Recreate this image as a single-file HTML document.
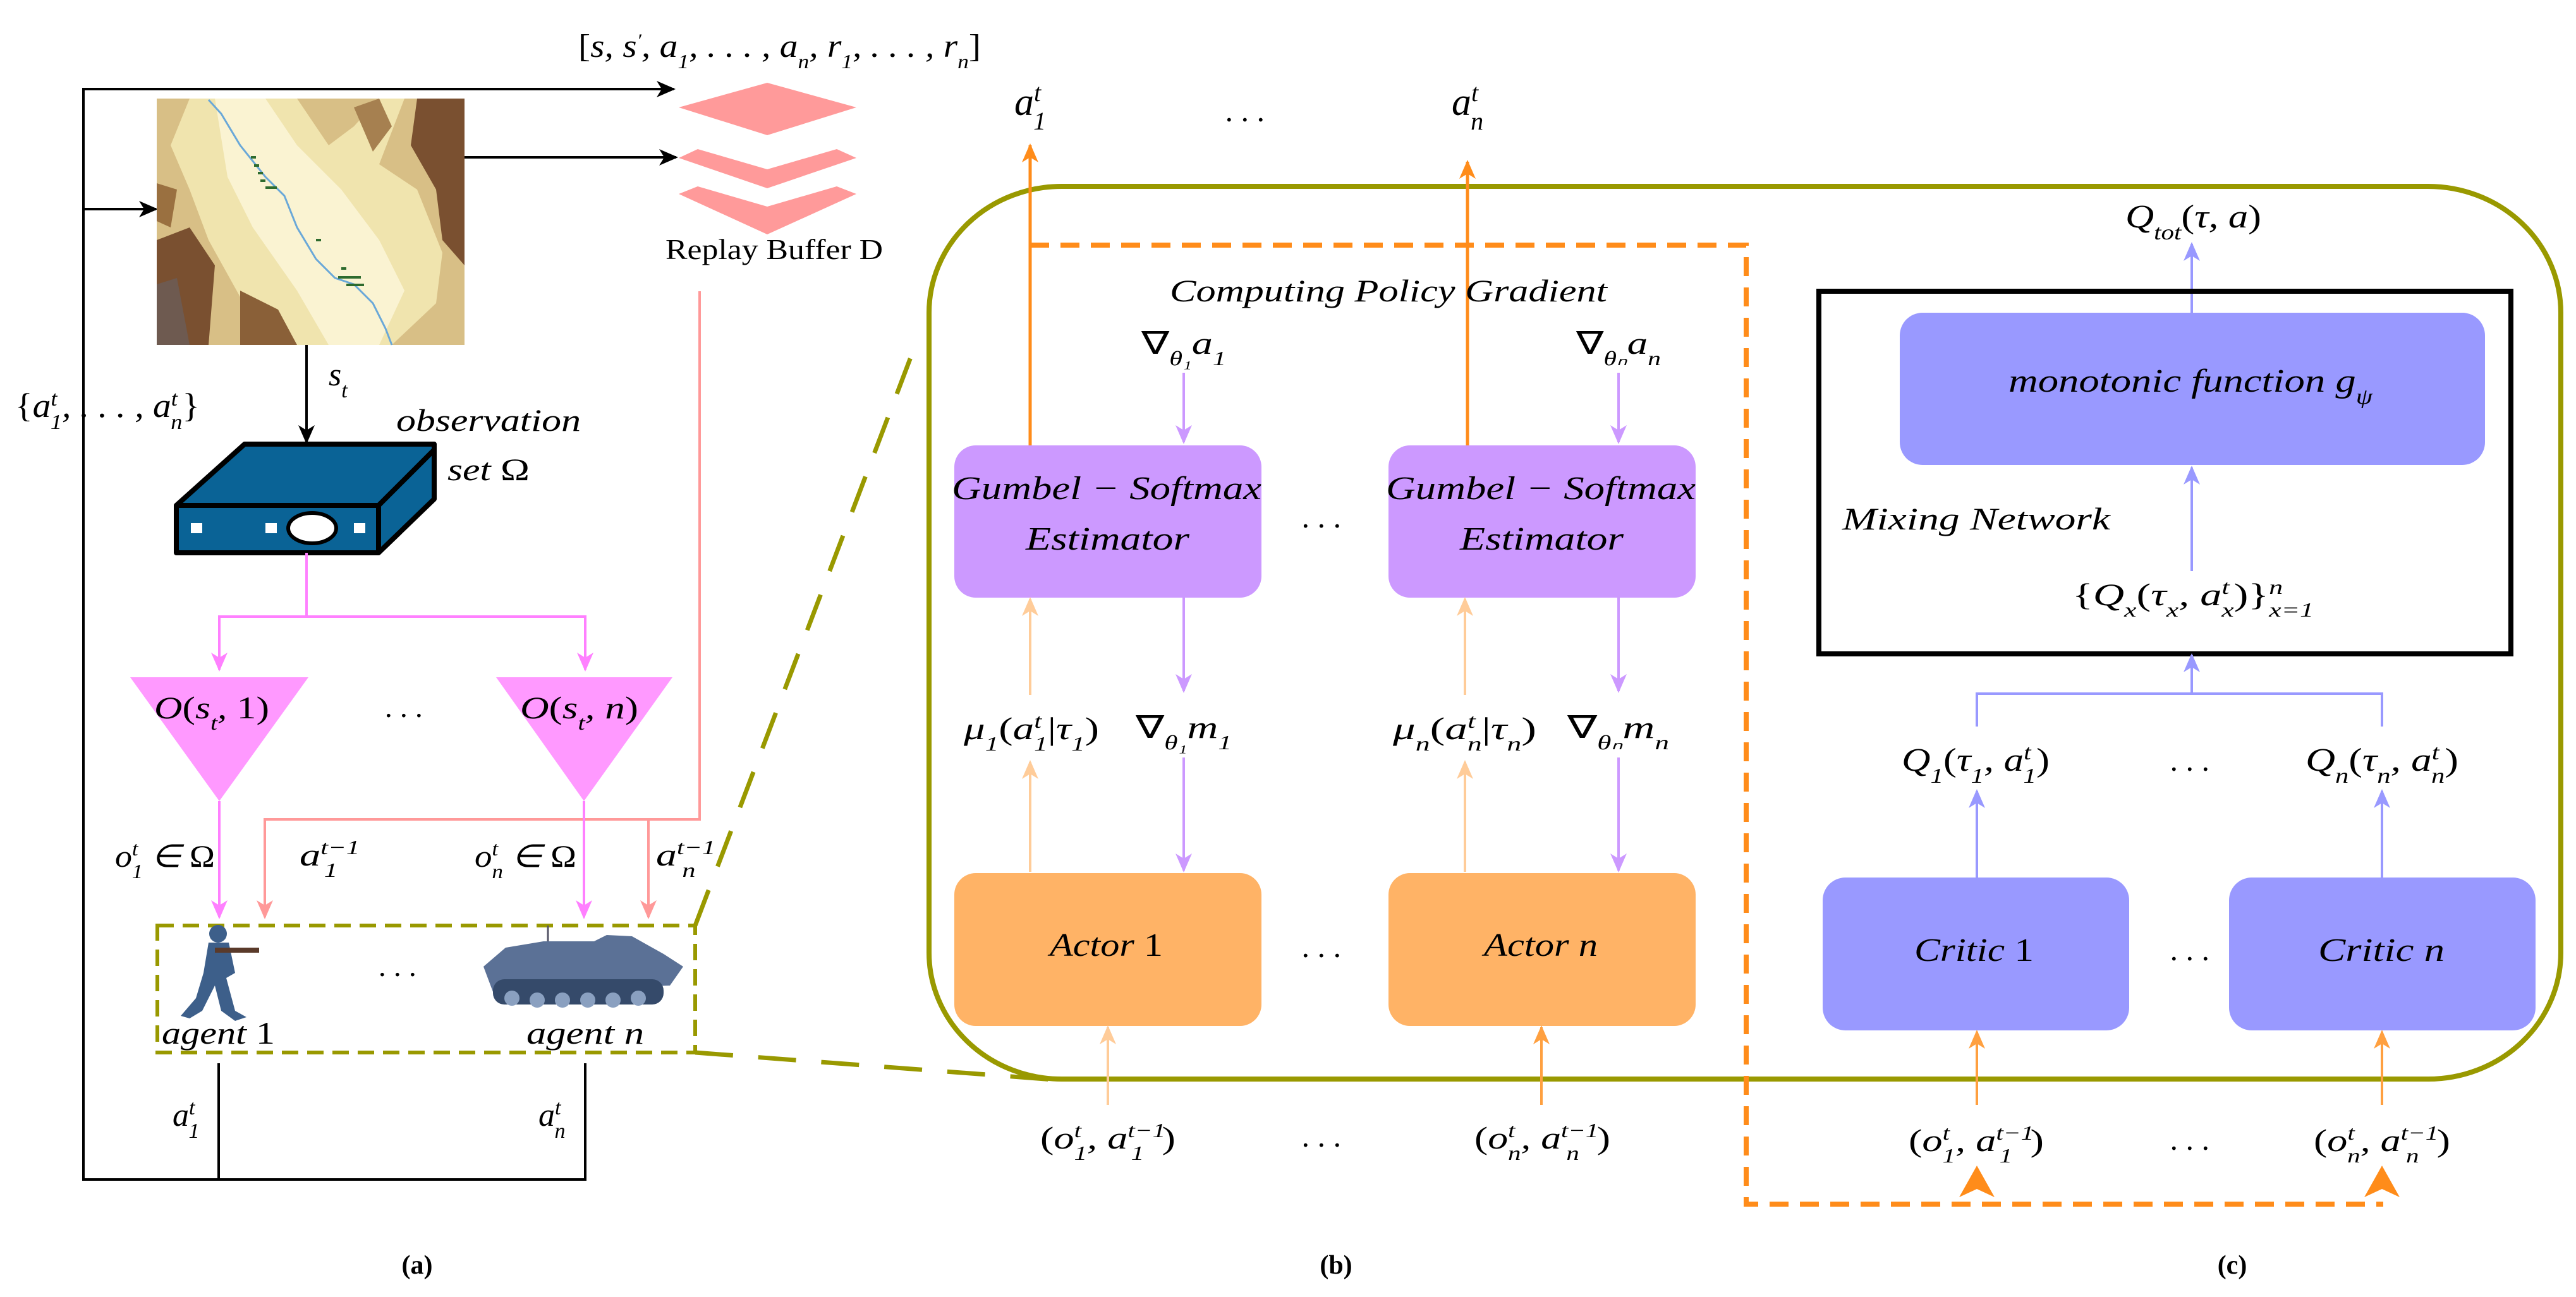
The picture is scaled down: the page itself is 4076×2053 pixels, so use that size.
<!DOCTYPE html>
<html><head><meta charset="utf-8"><style>
html,body{margin:0;padding:0;background:#fff;}
svg{display:block;}
text{font-family:"Liberation Serif",serif;font-style:italic;fill:#000;}
.up{font-family:"Liberation Serif",serif;font-style:normal;}
</style></head><body>
<svg width="4076" height="2053" viewBox="0 0 4076 2053" xmlns="http://www.w3.org/2000/svg">
<defs>
<marker id="mk" viewBox="0 0 30 30" refX="27" refY="15" markerWidth="30" markerHeight="30" markerUnits="userSpaceOnUse" orient="auto"><path d="M0,2 L30,15 L0,28 L8,15 Z" fill="#000"/></marker>
<marker id="mp" viewBox="0 0 30 30" refX="27" refY="15" markerWidth="30" markerHeight="30" markerUnits="userSpaceOnUse" orient="auto"><path d="M0,2 L30,15 L0,28 L8,15 Z" fill="#ff80ff"/></marker>
<marker id="ms" viewBox="0 0 30 30" refX="27" refY="15" markerWidth="30" markerHeight="30" markerUnits="userSpaceOnUse" orient="auto"><path d="M0,2 L30,15 L0,28 L8,15 Z" fill="#ff9999"/></marker>
<marker id="mo" viewBox="0 0 30 30" refX="27" refY="15" markerWidth="30" markerHeight="30" markerUnits="userSpaceOnUse" orient="auto"><path d="M0,2 L30,15 L0,28 L8,15 Z" fill="#ff8c1a"/></marker>
<marker id="mpe" viewBox="0 0 30 30" refX="27" refY="15" markerWidth="30" markerHeight="30" markerUnits="userSpaceOnUse" orient="auto"><path d="M0,2 L30,15 L0,28 L8,15 Z" fill="#ffcc99"/></marker>
<marker id="ml" viewBox="0 0 30 30" refX="27" refY="15" markerWidth="30" markerHeight="30" markerUnits="userSpaceOnUse" orient="auto"><path d="M0,2 L30,15 L0,28 L8,15 Z" fill="#cc99ff"/></marker>
<marker id="mb" viewBox="0 0 30 30" refX="27" refY="15" markerWidth="30" markerHeight="30" markerUnits="userSpaceOnUse" orient="auto"><path d="M0,2 L30,15 L0,28 L8,15 Z" fill="#9999ff"/></marker>
<marker id="mor" viewBox="0 0 30 30" refX="27" refY="15" markerWidth="30" markerHeight="30" markerUnits="userSpaceOnUse" orient="auto"><path d="M0,2 L30,15 L0,28 L8,15 Z" fill="#ffa040"/></marker>
</defs>

<!-- ========== Panel (a) ========== -->
<polyline points="346,1683 346,1867 132,1867 132,141 1066,141" fill="none" stroke="#000" stroke-width="4" marker-end="url(#mk)"/>
<polyline points="926,1683 926,1867 346,1867" fill="none" stroke="#000" stroke-width="4"/>
<line x1="132" y1="331" x2="247" y2="331" stroke="#000" stroke-width="4" marker-end="url(#mk)"/>
<line x1="734" y1="249" x2="1070" y2="249" stroke="#000" stroke-width="4" marker-end="url(#mk)"/>

<!-- map -->
<g>
<rect x="248" y="156" width="487" height="390" fill="#d8bf86"/>
<path d="M300,156 L470,156 L520,230 L560,200 L600,156 L640,156 L600,260 L660,300 L700,400 L690,480 L620,546 L470,546 L380,470 L330,380 L300,300 L270,230 Z" fill="#f0e4ae"/>
<path d="M340,156 L420,156 L470,230 L540,300 L600,380 L640,460 L600,546 L520,546 L470,460 L400,360 L360,280 Z" fill="#faf3d2"/>
<path d="M248,380 L300,360 L340,420 L330,546 L248,546 Z" fill="#7a5030"/>
<path d="M248,450 L280,440 L300,546 L248,546 Z" fill="#6e5a50"/>
<path d="M660,156 L735,156 L735,420 L700,380 L690,300 L650,230 Z" fill="#7a5030"/>
<path d="M248,290 L280,300 L270,360 L248,350 Z" fill="#9a7040"/>
<path d="M380,460 L440,490 L470,546 L380,546 Z" fill="#8a6038"/>
<path d="M560,170 L600,156 L620,200 L590,240 Z" fill="#a68050"/>
<polyline points="330,158 350,180 380,230 420,280 450,310 470,360 500,410 530,440 560,450 590,480 610,520 620,546" fill="none" stroke="#6aa8d8" stroke-width="3"/>
<g fill="#2e6b2e"><rect x="397" y="247" width="8" height="4"/><rect x="402" y="260" width="8" height="4"/><rect x="408" y="272" width="8" height="4"/><rect x="412" y="284" width="8" height="4"/><rect x="420" y="295" width="18" height="4"/><rect x="500" y="378" width="8" height="4"/><rect x="540" y="423" width="8" height="4"/><rect x="535" y="437" width="36" height="4"/><rect x="548" y="449" width="28" height="4"/></g>
</g>

<!-- replay buffer -->
<polygon points="1214,131 1355,170 1214,214 1074,170" fill="#ff9a9a"/>
<polygon points="1074,250 1104,236 1214,268 1324,236 1355,250 1214,298" fill="#ff9a9a"/>
<polygon points="1074,307 1104,295 1214,327 1324,295 1355,307 1214,371" fill="#ff9a9a"/>
<text class="up" x="1053" y="410" font-size="46" textLength="344" lengthAdjust="spacingAndGlyphs">Replay Buffer D</text>
<text x="915" y="90" font-size="52" textLength="637" lengthAdjust="spacingAndGlyphs"><tspan class="up">[</tspan>s, s<tspan font-size="30" baseline-shift="super">′</tspan>, a<tspan font-size="32" baseline-shift="sub">1</tspan>, . . . , a<tspan font-size="32" baseline-shift="sub">n</tspan>, r<tspan font-size="32" baseline-shift="sub">1</tspan>, . . . , r<tspan font-size="32" baseline-shift="sub">n</tspan><tspan class="up">]</tspan></text>

<polyline points="1107,461 1107,1297 419,1297 419,1452" fill="none" stroke="#ff9999" stroke-width="4" marker-end="url(#ms)"/>
<line x1="1026" y1="1297" x2="1026" y2="1452" stroke="#ff9999" stroke-width="4" marker-end="url(#ms)"/>

<text x="24" y="660" font-size="54" textLength="292" lengthAdjust="spacingAndGlyphs"><tspan class="up">{</tspan>a<tspan font-size="34" baseline-shift="super">t</tspan><tspan font-size="34" dx="-10" baseline-shift="sub">1</tspan>, . . . , a<tspan font-size="34" baseline-shift="super">t</tspan><tspan font-size="34" dx="-10" baseline-shift="sub">n</tspan><tspan class="up">}</tspan></text>

<line x1="485" y1="546" x2="485" y2="700" stroke="#000" stroke-width="4" marker-end="url(#mk)"/>
<text x="520" y="610" font-size="52">s<tspan font-size="34" baseline-shift="sub">t</tspan></text>

<!-- device -->
<polygon points="279,800 387,703 687,703 687,790 599,875 279,875" fill="#0a6396" stroke="#000" stroke-width="8" stroke-linejoin="round"/>
<line x1="279" y1="800" x2="599" y2="800" stroke="#000" stroke-width="8"/>
<line x1="599" y1="800" x2="687" y2="712" stroke="#000" stroke-width="8"/>
<line x1="599" y1="800" x2="599" y2="875" stroke="#000" stroke-width="8"/>
<rect x="302" y="828" width="18" height="16" fill="#fff"/>
<rect x="420" y="828" width="18" height="16" fill="#fff"/>
<rect x="560" y="828" width="18" height="16" fill="#fff"/>
<ellipse cx="494" cy="836" rx="38" ry="24" fill="#fff" stroke="#000" stroke-width="6"/>
<text x="627" y="682" font-size="50" textLength="292" lengthAdjust="spacingAndGlyphs">observation</text>
<text x="708" y="760" font-size="50" textLength="130" lengthAdjust="spacingAndGlyphs">set <tspan class="up">Ω</tspan></text>

<polyline points="485,875 485,976" fill="none" stroke="#ff80ff" stroke-width="4"/>
<polyline points="347,1000 347,976 926,976 926,1000" fill="none" stroke="#ff80ff" stroke-width="4"/>
<line x1="347" y1="990" x2="347" y2="1060" stroke="#ff80ff" stroke-width="4" marker-end="url(#mp)"/>
<line x1="926" y1="990" x2="926" y2="1060" stroke="#ff80ff" stroke-width="4" marker-end="url(#mp)"/>
<polygon points="206,1072 488,1072 347,1268" fill="#ff99ff"/>
<polygon points="785,1072 1064,1072 924,1268" fill="#ff99ff"/>
<text x="244" y="1137" font-size="50" textLength="182" lengthAdjust="spacingAndGlyphs">O<tspan class="up">(</tspan>s<tspan font-size="32" baseline-shift="sub">t</tspan>, <tspan class="up">1)</tspan></text>
<text x="823" y="1137" font-size="50" textLength="187" lengthAdjust="spacingAndGlyphs">O<tspan class="up">(</tspan>s<tspan font-size="32" baseline-shift="sub">t</tspan>, n<tspan class="up">)</tspan></text>
<text x="610" y="1135" font-size="48">. . .</text>
<line x1="347" y1="1268" x2="347" y2="1452" stroke="#ff80ff" stroke-width="4" marker-end="url(#mp)"/>
<line x1="924" y1="1268" x2="924" y2="1452" stroke="#ff80ff" stroke-width="4" marker-end="url(#mp)"/>

<text x="182" y="1372" font-size="50" textLength="158" lengthAdjust="spacingAndGlyphs">o<tspan font-size="32" baseline-shift="super">t</tspan><tspan font-size="32" dx="-9" baseline-shift="sub">1</tspan> ∈ <tspan class="up">Ω</tspan></text>
<text x="474" y="1370" font-size="50" textLength="92" lengthAdjust="spacingAndGlyphs">a<tspan font-size="32" baseline-shift="super">t−1</tspan><tspan font-size="32" dx="-40" baseline-shift="sub">1</tspan></text>
<text x="751" y="1372" font-size="50" textLength="161" lengthAdjust="spacingAndGlyphs">o<tspan font-size="32" baseline-shift="super">t</tspan><tspan font-size="32" dx="-9" baseline-shift="sub">n</tspan> ∈ <tspan class="up">Ω</tspan></text>
<text x="1038" y="1370" font-size="50" textLength="94" lengthAdjust="spacingAndGlyphs">a<tspan font-size="32" baseline-shift="super">t−1</tspan><tspan font-size="32" dx="-40" baseline-shift="sub">n</tspan></text>

<rect x="249" y="1465" width="851" height="201" fill="none" stroke="#999900" stroke-width="6" stroke-dasharray="26,14"/>
<g fill="#3d5f8a">
<circle cx="345" cy="1478" r="14"/>
<path d="M330,1492 L362,1492 L372,1540 L358,1548 L372,1600 L390,1610 L372,1616 L350,1600 L340,1560 L320,1600 L300,1612 L286,1608 L310,1580 L322,1540 Z"/>
<rect x="340" y="1500" width="70" height="8" fill="#5a3a2a"/>
</g>
<g>
<polygon points="765,1530 800,1500 860,1490 940,1490 960,1480 1000,1482 1050,1510 1081,1530 1060,1560 780,1570" fill="#5b7196"/>
<rect x="780" y="1550" width="270" height="40" rx="18" fill="#354a6a"/>
<g fill="#8aa0c0"><circle cx="810" cy="1580" r="12"/><circle cx="850" cy="1583" r="12"/><circle cx="890" cy="1583" r="12"/><circle cx="930" cy="1583" r="12"/><circle cx="970" cy="1583" r="12"/><circle cx="1010" cy="1580" r="12"/></g>
<line x1="867" y1="1490" x2="867" y2="1465" stroke="#556" stroke-width="3"/>
</g>
<text x="600" y="1545" font-size="48">. . .</text>
<text x="256" y="1652" font-size="50" textLength="179" lengthAdjust="spacingAndGlyphs">agent <tspan class="up">1</tspan></text>
<text x="833" y="1652" font-size="50" textLength="186" lengthAdjust="spacingAndGlyphs">agent n</text>

<text x="273" y="1782" font-size="52">a<tspan font-size="34" baseline-shift="super">t</tspan><tspan font-size="34" dx="-10" baseline-shift="sub">1</tspan></text>
<text x="852" y="1782" font-size="52">a<tspan font-size="34" baseline-shift="super">t</tspan><tspan font-size="34" dx="-10" baseline-shift="sub">n</tspan></text>
<text class="up" x="660" y="2016" font-size="42" font-weight="bold" text-anchor="middle">(a)</text>

<line x1="1100" y1="1465" x2="1445" y2="555" stroke="#999900" stroke-width="7" stroke-dasharray="60,40"/>
<line x1="1100" y1="1666" x2="1680" y2="1710" stroke="#999900" stroke-width="7" stroke-dasharray="60,40"/>

<rect x="1470" y="295" width="2582" height="1413" rx="210" ry="200" fill="none" stroke="#999900" stroke-width="8"/>

<polyline points="1630,388 2763,388 2763,1906 3771,1906" fill="none" stroke="#ff8c1a" stroke-width="8" stroke-dasharray="30,18"/>
<polygon points="3100,1895 3128,1845 3156,1895 3128,1882" fill="#ff8c1a"/>
<polygon points="3741,1895 3769,1845 3797,1895 3769,1882" fill="#ff8c1a"/>

<!-- ========== Panel (b) ========== -->
<line x1="1630" y1="705" x2="1630" y2="230" stroke="#ff8c1a" stroke-width="5" marker-end="url(#mo)"/>
<line x1="2322" y1="705" x2="2322" y2="256" stroke="#ff8c1a" stroke-width="5" marker-end="url(#mo)"/>
<text x="1630" y="182" font-size="62" text-anchor="middle">a<tspan font-size="40" baseline-shift="super">t</tspan><tspan font-size="40" dx="-12" baseline-shift="sub">1</tspan></text>
<text x="2322" y="182" font-size="62" text-anchor="middle">a<tspan font-size="40" baseline-shift="super">t</tspan><tspan font-size="40" dx="-12" baseline-shift="sub">n</tspan></text>
<text x="1971" y="192" font-size="50" text-anchor="middle">. . .</text>

<text x="1851" y="477" font-size="50" textLength="692" lengthAdjust="spacingAndGlyphs">Computing Policy Gradient</text>
<text x="1806" y="560" font-size="50" textLength="134" lengthAdjust="spacingAndGlyphs"><tspan class="up">∇</tspan><tspan font-size="32" baseline-shift="sub">θ₁</tspan>a<tspan font-size="32" baseline-shift="sub">1</tspan></text>
<text x="2494" y="560" font-size="50" textLength="134" lengthAdjust="spacingAndGlyphs"><tspan class="up">∇</tspan><tspan font-size="32" baseline-shift="sub">θₙ</tspan>a<tspan font-size="32" baseline-shift="sub">n</tspan></text>
<line x1="1873" y1="590" x2="1873" y2="700" stroke="#cc99ff" stroke-width="4" marker-end="url(#ml)"/>
<line x1="2561" y1="590" x2="2561" y2="700" stroke="#cc99ff" stroke-width="4" marker-end="url(#ml)"/>

<rect x="1510" y="705" width="486" height="241" rx="34" fill="#cc99ff"/>
<rect x="2197" y="705" width="486" height="241" rx="34" fill="#cc99ff"/>
<text x="1506" y="790" font-size="52" textLength="490" lengthAdjust="spacingAndGlyphs">Gumbel − Softmax</text>
<text x="1623" y="870" font-size="52" textLength="259" lengthAdjust="spacingAndGlyphs">Estimator</text>
<text x="2193" y="790" font-size="52" textLength="490" lengthAdjust="spacingAndGlyphs">Gumbel − Softmax</text>
<text x="2310" y="870" font-size="52" textLength="259" lengthAdjust="spacingAndGlyphs">Estimator</text>
<text x="2092" y="835" font-size="50" text-anchor="middle">. . .</text>

<line x1="1630" y1="1100" x2="1630" y2="948" stroke="#ffcc99" stroke-width="4" marker-end="url(#mpe)"/>
<line x1="1630" y1="1380" x2="1630" y2="1206" stroke="#ffcc99" stroke-width="4" marker-end="url(#mpe)"/>
<line x1="2318" y1="1100" x2="2318" y2="948" stroke="#ffcc99" stroke-width="4" marker-end="url(#mpe)"/>
<line x1="2318" y1="1380" x2="2318" y2="1206" stroke="#ffcc99" stroke-width="4" marker-end="url(#mpe)"/>
<line x1="1873" y1="946" x2="1873" y2="1094" stroke="#cc99ff" stroke-width="4" marker-end="url(#ml)"/>
<line x1="1873" y1="1199" x2="1873" y2="1378" stroke="#cc99ff" stroke-width="4" marker-end="url(#ml)"/>
<line x1="2561" y1="946" x2="2561" y2="1094" stroke="#cc99ff" stroke-width="4" marker-end="url(#ml)"/>
<line x1="2561" y1="1199" x2="2561" y2="1378" stroke="#cc99ff" stroke-width="4" marker-end="url(#ml)"/>

<text x="1525" y="1170" font-size="50" textLength="214" lengthAdjust="spacingAndGlyphs">μ<tspan font-size="32" baseline-shift="sub">1</tspan><tspan class="up">(</tspan>a<tspan font-size="32" baseline-shift="super">t</tspan><tspan font-size="32" dx="-9" baseline-shift="sub">1</tspan><tspan class="up">|</tspan>τ<tspan font-size="32" baseline-shift="sub">1</tspan><tspan class="up">)</tspan></text>
<text x="1797" y="1168" font-size="50" textLength="152" lengthAdjust="spacingAndGlyphs"><tspan class="up">∇</tspan><tspan font-size="32" baseline-shift="sub">θ₁</tspan>m<tspan font-size="32" baseline-shift="sub">1</tspan></text>
<text x="2204" y="1170" font-size="50" textLength="227" lengthAdjust="spacingAndGlyphs">μ<tspan font-size="32" baseline-shift="sub">n</tspan><tspan class="up">(</tspan>a<tspan font-size="32" baseline-shift="super">t</tspan><tspan font-size="32" dx="-9" baseline-shift="sub">n</tspan><tspan class="up">|</tspan>τ<tspan font-size="32" baseline-shift="sub">n</tspan><tspan class="up">)</tspan></text>
<text x="2480" y="1168" font-size="50" textLength="161" lengthAdjust="spacingAndGlyphs"><tspan class="up">∇</tspan><tspan font-size="32" baseline-shift="sub">θₙ</tspan>m<tspan font-size="32" baseline-shift="sub">n</tspan></text>

<rect x="1510" y="1382" width="486" height="242" rx="34" fill="#ffb366"/>
<rect x="2197" y="1382" width="486" height="242" rx="34" fill="#ffb366"/>
<text x="1661" y="1513" font-size="52" textLength="179" lengthAdjust="spacingAndGlyphs">Actor <tspan class="up">1</tspan></text>
<text x="2348" y="1513" font-size="52" textLength="180" lengthAdjust="spacingAndGlyphs">Actor n</text>
<text x="2092" y="1515" font-size="50" text-anchor="middle">. . .</text>

<line x1="1753" y1="1749" x2="1753" y2="1626" stroke="#ffcc99" stroke-width="4" marker-end="url(#mpe)"/>
<line x1="2439" y1="1749" x2="2439" y2="1626" stroke="#ffa040" stroke-width="4" marker-end="url(#mor)"/>
<text x="1646" y="1818" font-size="50" textLength="214" lengthAdjust="spacingAndGlyphs"><tspan class="up">(</tspan>o<tspan font-size="32" baseline-shift="super">t</tspan><tspan font-size="32" dx="-9" baseline-shift="sub">1</tspan>, a<tspan font-size="32" baseline-shift="super">t−1</tspan><tspan font-size="32" dx="-40" baseline-shift="sub">1</tspan><tspan class="up" dx="22">)</tspan></text>
<text x="2333" y="1818" font-size="50" textLength="215" lengthAdjust="spacingAndGlyphs"><tspan class="up">(</tspan>o<tspan font-size="32" baseline-shift="super">t</tspan><tspan font-size="32" dx="-9" baseline-shift="sub">n</tspan>, a<tspan font-size="32" baseline-shift="super">t−1</tspan><tspan font-size="32" dx="-40" baseline-shift="sub">n</tspan><tspan class="up" dx="22">)</tspan></text>
<text x="2092" y="1815" font-size="50" text-anchor="middle">. . .</text>
<text class="up" x="2114" y="2016" font-size="42" font-weight="bold" text-anchor="middle">(b)</text>

<!-- ========== Panel (c) ========== -->
<text x="3363" y="360" font-size="52" textLength="215" lengthAdjust="spacingAndGlyphs">Q<tspan font-size="34" baseline-shift="sub">tot</tspan><tspan class="up">(</tspan>τ, a<tspan class="up">)</tspan></text>
<line x1="3468" y1="495" x2="3468" y2="386" stroke="#9999ff" stroke-width="4" marker-end="url(#mb)"/>
<rect x="2878" y="461" width="1095" height="574" fill="none" stroke="#000" stroke-width="8"/>
<rect x="3006" y="495" width="926" height="241" rx="36" fill="#9999ff"/>
<text x="3178" y="620" font-size="52" textLength="576" lengthAdjust="spacingAndGlyphs">monotonic function g<tspan font-size="34" baseline-shift="sub">ψ</tspan></text>
<line x1="3468" y1="904" x2="3468" y2="740" stroke="#9999ff" stroke-width="4" marker-end="url(#mb)"/>
<text x="2915" y="838" font-size="50" textLength="424" lengthAdjust="spacingAndGlyphs">Mixing Network</text>
<text x="3279" y="958" font-size="50" textLength="382" lengthAdjust="spacingAndGlyphs"><tspan class="up">{</tspan>Q<tspan font-size="32" baseline-shift="sub">x</tspan><tspan class="up">(</tspan>τ<tspan font-size="32" baseline-shift="sub">x</tspan>, a<tspan font-size="32" baseline-shift="super">t</tspan><tspan font-size="32" dx="-9" baseline-shift="sub">x</tspan><tspan class="up">)}</tspan><tspan font-size="32" baseline-shift="super">n</tspan><tspan font-size="32" dx="-16" baseline-shift="sub">x=1</tspan></text>
<polyline points="3128,1150 3128,1098 3769,1098 3769,1150" fill="none" stroke="#9999ff" stroke-width="4"/>
<line x1="3468" y1="1098" x2="3468" y2="1037" stroke="#9999ff" stroke-width="4" marker-end="url(#mb)"/>
<text x="3009" y="1220" font-size="52" textLength="234" lengthAdjust="spacingAndGlyphs">Q<tspan font-size="34" baseline-shift="sub">1</tspan><tspan class="up">(</tspan>τ<tspan font-size="34" baseline-shift="sub">1</tspan>, a<tspan font-size="34" baseline-shift="super">t</tspan><tspan font-size="34" dx="-10" baseline-shift="sub">1</tspan><tspan class="up">)</tspan></text>
<text x="3648" y="1220" font-size="52" textLength="242" lengthAdjust="spacingAndGlyphs">Q<tspan font-size="34" baseline-shift="sub">n</tspan><tspan class="up">(</tspan>τ<tspan font-size="34" baseline-shift="sub">n</tspan>, a<tspan font-size="34" baseline-shift="super">t</tspan><tspan font-size="34" dx="-10" baseline-shift="sub">n</tspan><tspan class="up">)</tspan></text>
<text x="3466" y="1220" font-size="50" text-anchor="middle">. . .</text>
<line x1="3128" y1="1389" x2="3128" y2="1252" stroke="#9999ff" stroke-width="4" marker-end="url(#mb)"/>
<line x1="3769" y1="1389" x2="3769" y2="1252" stroke="#9999ff" stroke-width="4" marker-end="url(#mb)"/>
<rect x="2884" y="1389" width="485" height="242" rx="36" fill="#9999ff"/>
<rect x="3527" y="1389" width="485" height="242" rx="36" fill="#9999ff"/>
<text x="3029" y="1521" font-size="52" textLength="189" lengthAdjust="spacingAndGlyphs">Critic <tspan class="up">1</tspan></text>
<text x="3668" y="1521" font-size="52" textLength="200" lengthAdjust="spacingAndGlyphs">Critic n</text>
<text x="3466" y="1520" font-size="50" text-anchor="middle">. . .</text>
<line x1="3128" y1="1749" x2="3128" y2="1633" stroke="#ffa040" stroke-width="4" marker-end="url(#mor)"/>
<line x1="3769" y1="1749" x2="3769" y2="1633" stroke="#ffa040" stroke-width="4" marker-end="url(#mor)"/>
<text x="3020" y="1822" font-size="50" textLength="214" lengthAdjust="spacingAndGlyphs"><tspan class="up">(</tspan>o<tspan font-size="32" baseline-shift="super">t</tspan><tspan font-size="32" dx="-9" baseline-shift="sub">1</tspan>, a<tspan font-size="32" baseline-shift="super">t−1</tspan><tspan font-size="32" dx="-40" baseline-shift="sub">1</tspan><tspan class="up" dx="22">)</tspan></text>
<text x="3661" y="1822" font-size="50" textLength="216" lengthAdjust="spacingAndGlyphs"><tspan class="up">(</tspan>o<tspan font-size="32" baseline-shift="super">t</tspan><tspan font-size="32" dx="-9" baseline-shift="sub">n</tspan>, a<tspan font-size="32" baseline-shift="super">t−1</tspan><tspan font-size="32" dx="-40" baseline-shift="sub">n</tspan><tspan class="up" dx="22">)</tspan></text>
<text x="3466" y="1820" font-size="50" text-anchor="middle">. . .</text>
<text class="up" x="3532" y="2016" font-size="42" font-weight="bold" text-anchor="middle">(c)</text>
</svg>
</body></html>
